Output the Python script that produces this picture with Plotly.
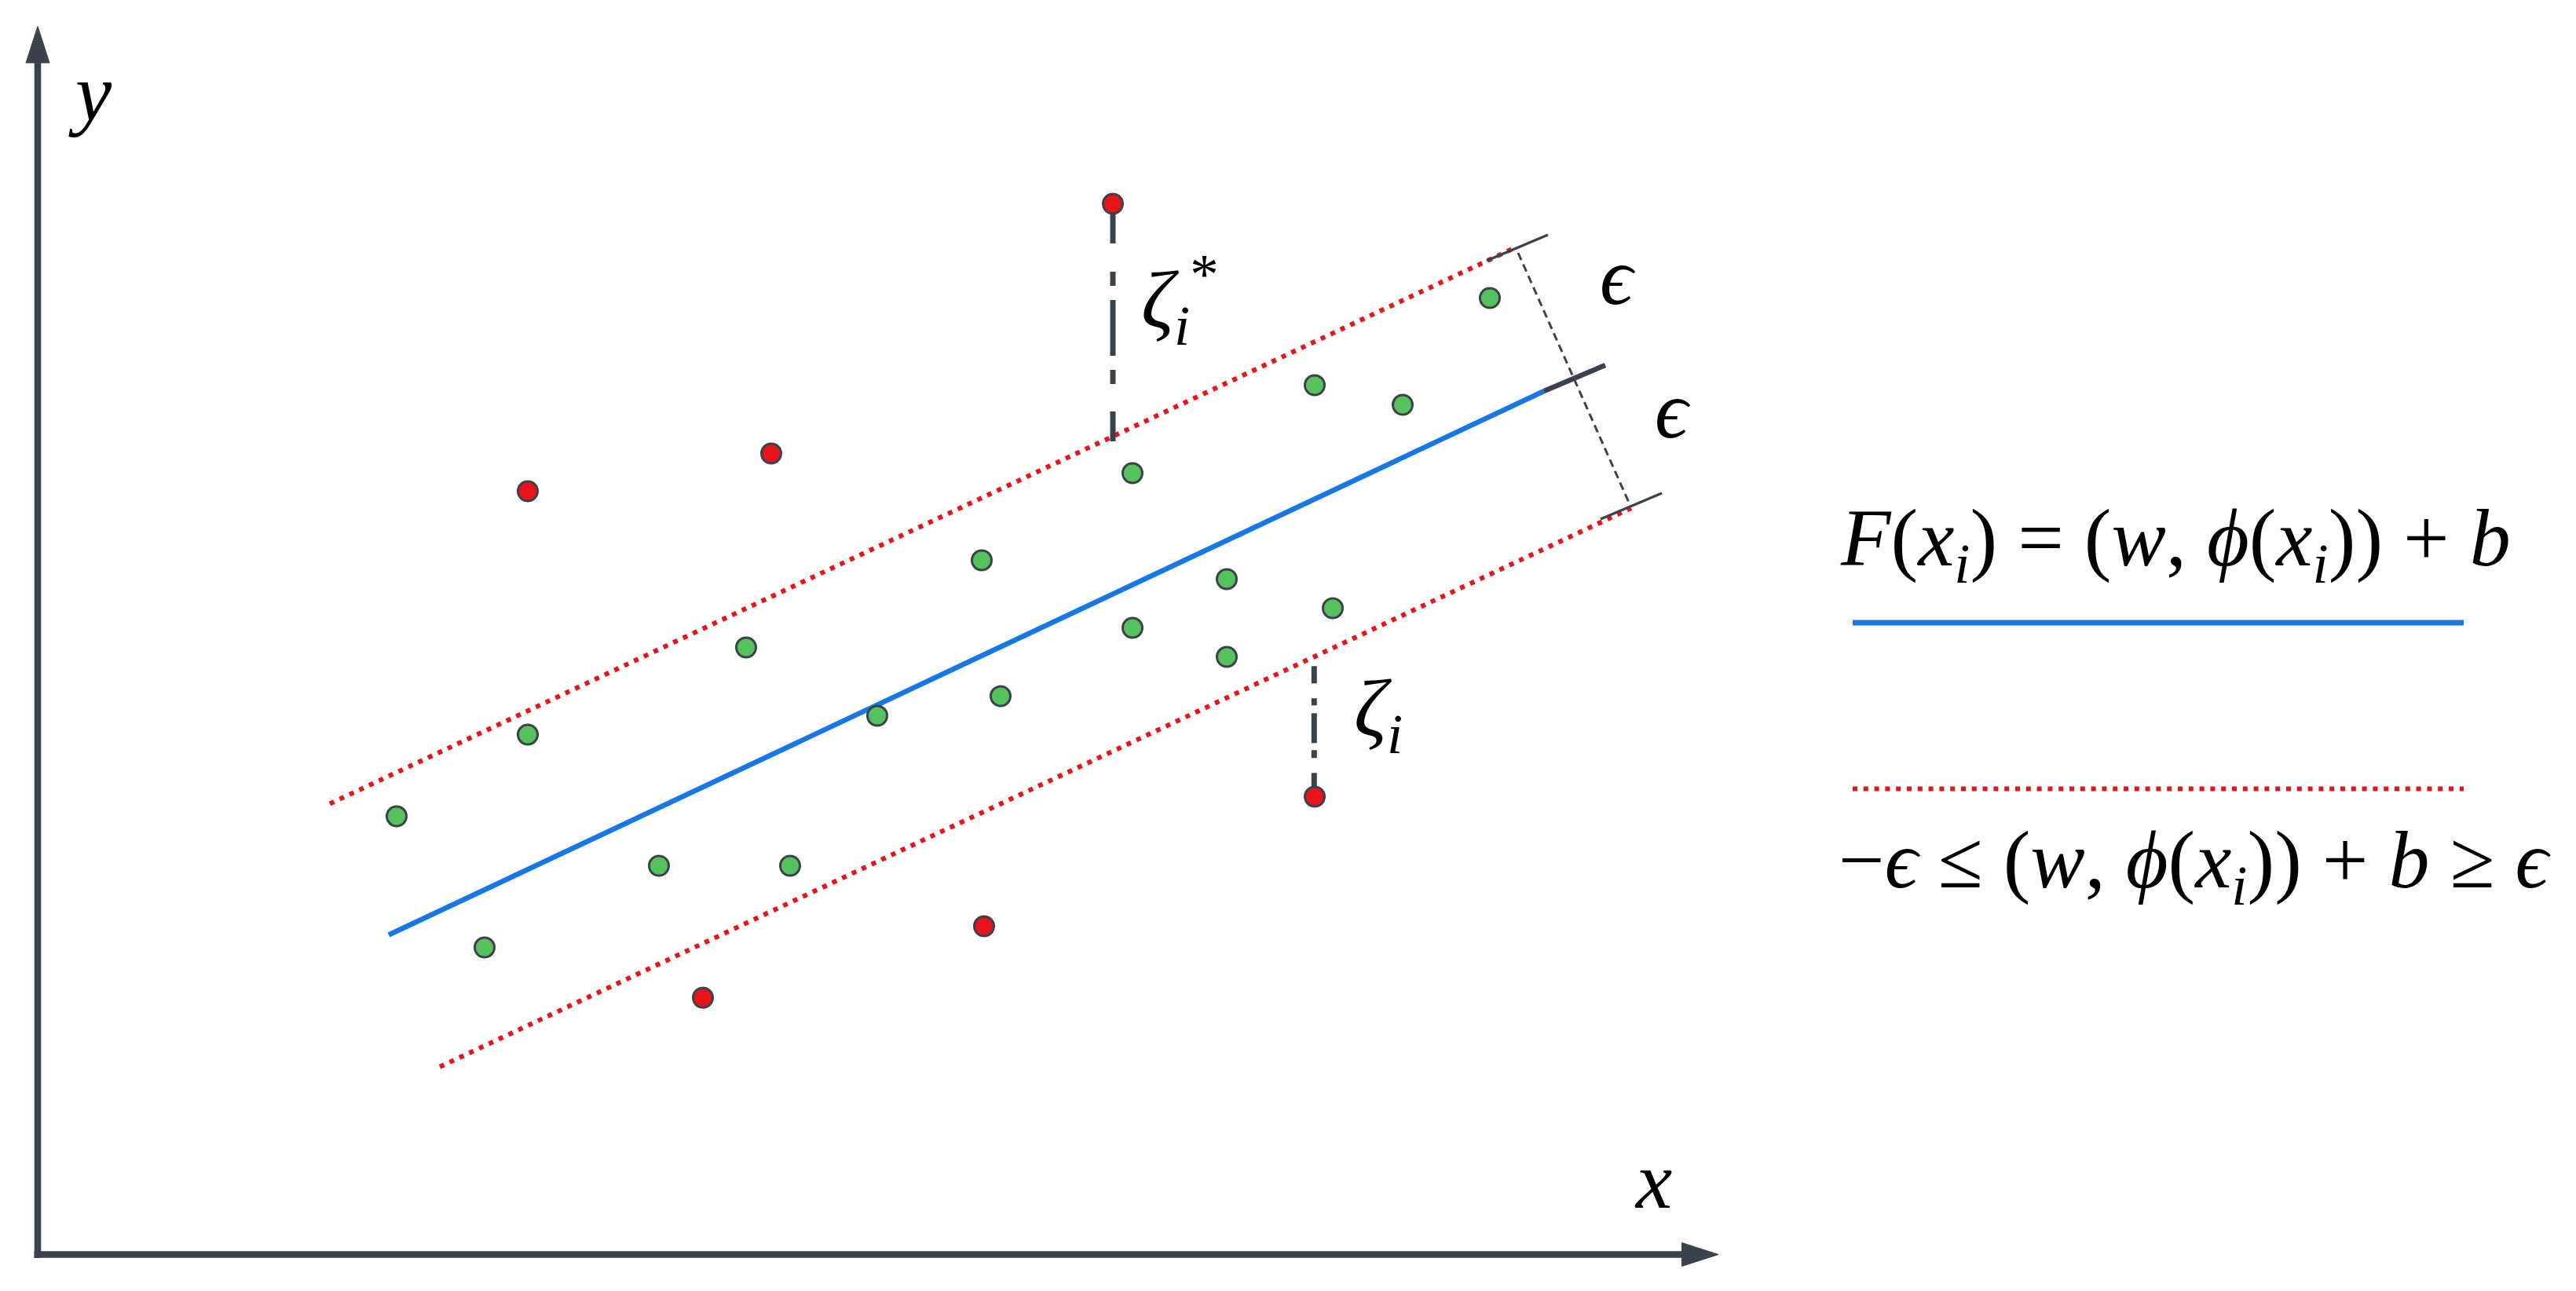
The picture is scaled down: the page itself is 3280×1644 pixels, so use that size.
import plotly.graph_objects as go

# ---------------- data (diagram units, origin at the axes corner) ----------------
green_x = [4.57, 5.69, 6.24, 7.91, 9.02, 9.58, 10.69, 12.02, 12.26, 13.94, 13.94, 15.14, 15.14, 16.26, 16.49, 17.38, 18.49]
green_y = [5.58, 3.91, 6.62, 4.95, 7.73, 4.95, 6.86, 8.84, 7.11, 9.95, 7.98, 8.60, 7.61, 11.07, 8.23, 10.82, 12.18]

red_x = [6.24, 9.34, 13.69, 12.05, 8.47, 16.26]
red_y = [9.72, 10.20, 13.38, 4.18, 3.27, 5.83]

fit_x = [4.47, 19.18]          # regression line F(x)
fit_y = [4.07, 10.995]
upper_x = [3.72, 18.82]        # +epsilon tube
upper_y = [5.74, 12.825]
lower_x = [5.12, 20.29]        # -epsilon tube
lower_y = [2.39, 9.505]

# dimension ticks at the tube ends
tick_up_x = [18.45, 19.23]
tick_up_y = [12.655, 12.985]
tick_mid_x = [19.18, 19.96]
tick_mid_y = [10.995, 11.325]
tick_lo_x = [19.90, 20.68]
tick_lo_y = [9.365, 9.695]
perp_x = [18.85, 20.27]
perp_y = [12.755, 9.555]

# slack variables
zeta_star_x = [13.69, 13.69]
zeta_star_y = [10.355, 13.375]
zeta_x = [16.253, 16.253]
zeta_y = [7.492, 5.832]

# axes
x_axis_end = 21.40
y_axis_end = 15.64
arrow_len = 0.465
arrow_half = 0.15

# legend
legend_x = [23.11, 30.89]
legend_blue_y = 8.045
legend_red_y = 5.93

# text labels: (x, y, text)
labels = [
    (0.67, 14.80, "<i>y</i>"),
    (20.57, 0.95, "<i>x</i>"),
    (20.12, 12.46, "<i>ϵ</i>"),
    (20.82, 10.76, "<i>ϵ</i>"),
    (14.54, 12.16, "<i>ζ</i><sub><i>i</i></sub><sup>*</sup>"),
    (17.07, 6.88, "<i>ζ</i><sub><i>i</i></sub>"),
    (27.22, 9.05, "<i>F</i>(<i>x</i><sub><i>i</i></sub>) = (<i>w</i>, <i>ϕ</i>(<i>x</i><sub><i>i</i></sub>)) + <i>b</i>"),
    (27.47, 4.95, "−<i>ϵ</i> ≤ (<i>w</i>, <i>ϕ</i>(<i>x</i><sub><i>i</i></sub>)) + <i>b</i> ≥ <i>ϵ</i>"),
]

DARK = "#3C424B"
GREEN = "#55C25E"
RED = "#E8141A"
BLUE = "#1677E5"
FONT = "Liberation Serif"

fig = go.Figure()

# axes lines with arrow heads
fig.add_shape(type="line", x0=0, y0=-0.045, x1=0, y1=y_axis_end - arrow_len,
              line=dict(color=DARK, width=8.5))
fig.add_shape(type="line", x0=-0.045, y0=0, x1=x_axis_end - arrow_len, y1=0,
              line=dict(color=DARK, width=8.5))
fig.add_shape(type="path",
              path=f"M {-arrow_half},{y_axis_end - arrow_len} L 0,{y_axis_end} L {arrow_half},{y_axis_end - arrow_len} Z",
              fillcolor=DARK, line=dict(color=DARK, width=1))
fig.add_shape(type="path",
              path=f"M {x_axis_end - arrow_len},{-arrow_half} L {x_axis_end},0 L {x_axis_end - arrow_len},{arrow_half} Z",
              fillcolor=DARK, line=dict(color=DARK, width=1))

# tube lines
fig.add_trace(go.Scatter(x=upper_x, y=upper_y, mode="lines",
                         line=dict(color=RED, width=6, dash="6px,7.8px"), hoverinfo="skip"))
fig.add_trace(go.Scatter(x=lower_x, y=lower_y, mode="lines",
                         line=dict(color=RED, width=6, dash="6px,7.8px"), hoverinfo="skip"))
fig.add_trace(go.Scatter(x=fit_x, y=fit_y, mode="lines",
                         line=dict(color=BLUE, width=6.5), hoverinfo="skip"))

# dimension marks
fig.add_trace(go.Scatter(x=perp_x, y=perp_y, mode="lines",
                         line=dict(color=DARK, width=3, dash="10px,6px"), hoverinfo="skip"))
fig.add_trace(go.Scatter(x=tick_up_x, y=tick_up_y, mode="lines",
                         line=dict(color=DARK, width=3.5), hoverinfo="skip"))
fig.add_trace(go.Scatter(x=tick_mid_x, y=tick_mid_y, mode="lines",
                         line=dict(color=DARK, width=6.5), hoverinfo="skip"))
fig.add_trace(go.Scatter(x=tick_lo_x, y=tick_lo_y, mode="lines",
                         line=dict(color=DARK, width=3.5), hoverinfo="skip"))

# slack lines
fig.add_trace(go.Scatter(x=zeta_star_x, y=zeta_star_y, mode="lines",
                         line=dict(color=DARK, width=7,
                                   dash="38px,35px,18px,18px,71px,18px,18px,36px,140px"),
                         hoverinfo="skip"))
fig.add_trace(go.Scatter(x=zeta_x, y=zeta_y, mode="lines",
                         line=dict(color=DARK, width=7,
                                   dash="22px,19px,9px,10px,38px,9px,10px,19px,80px"),
                         hoverinfo="skip"))

# points
fig.add_trace(go.Scatter(x=green_x, y=green_y, mode="markers",
                         marker=dict(size=25, color=GREEN, line=dict(color=DARK, width=3)),
                         hoverinfo="skip"))
fig.add_trace(go.Scatter(x=red_x, y=red_y, mode="markers",
                         marker=dict(size=25, color=RED, line=dict(color=DARK, width=3)),
                         hoverinfo="skip"))

# legend lines
fig.add_trace(go.Scatter(x=legend_x, y=[legend_blue_y, legend_blue_y], mode="lines",
                         line=dict(color=BLUE, width=7), hoverinfo="skip"))
fig.add_trace(go.Scatter(x=legend_x, y=[legend_red_y, legend_red_y], mode="lines",
                         line=dict(color=RED, width=6, dash="6px,7.8px"), hoverinfo="skip"))

for lx, ly, txt in labels:
    fig.add_annotation(x=lx, y=ly, text=txt, showarrow=False, xanchor="center", yanchor="middle",
                       font=dict(family=FONT, size=104, color="black"))

fig.update_layout(
    width=3280, height=1644,
    margin=dict(l=0, r=0, t=0, b=0),
    paper_bgcolor="white", plot_bgcolor="white",
    showlegend=False,
    xaxis=dict(range=[-0.48, 32.32], visible=False, fixedrange=True),
    yaxis=dict(range=[-0.465, 15.975], visible=False, fixedrange=True),
)

fig.write_html("out.html", config={"displayModeBar": False},
               post_script="document.body.style.margin='0';document.body.style.overflow='hidden';")
